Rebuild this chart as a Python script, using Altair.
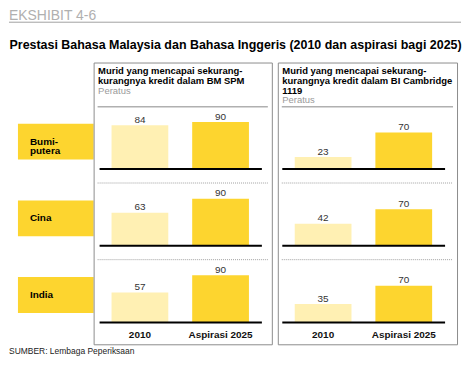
import altair as alt
import pandas as pd

# ---------------- data ----------------
GROUPS = ["Bumiputera", "Cina", "India"]
GROUP_LABELS = ["Bumi-\nputera", "Cina", "India"]
YEARS = ["2010", "Aspirasi 2025"]
BM_2010 = [84, 63, 57]
BM_2025 = [90, 90, 90]
BI_2010 = [23, 42, 35]
BI_2025 = [70, 70, 70]
BM_TITLE = ["Murid yang mencapai sekurang-", "kurangnya kredit dalam BM SPM"]
BI_TITLE = ["Murid yang mencapai sekurang-", "kurangnya kredit dalam BI Cambridge", "1119"]
UNIT = "Peratus"
EXHIBIT = "EKSHIBIT 4-6"
TITLE = "Prestasi Bahasa Malaysia dan Bahasa Inggeris (2010 dan aspirasi bagi 2025)"
SOURCE = "SUMBER: Lembaga Peperiksaan"

# ---------------- style / layout ----------------
FONT = "Liberation Sans"
DARK = "#FDD52F"
LIGHT = "#FFF0B3"
BORDER = "#8c8c8c"
PANEL_H = 283
K = 0.525                     # pixels per percentage point
DOM_TOP = PANEL_H / K
B0 = (PANEL_H - 107) / K      # baseline of first row (value units)
GAP = 77 / K                  # distance between rows (value units)
ys = alt.Scale(domain=[0, DOM_TOP], nice=False, zero=False)
one = pd.DataFrame({"k": [0]})


def with_base(chart):
    return chart.transform_calculate(base=f"{B0} - datum.row * {GAP}")


def panel(v2010, v2025, title_lines, width, band_left, rule_l, rule_r):
    df = pd.DataFrame({
        "row": [0, 1, 2] * 2,
        "group": GROUPS * 2,
        "year": [YEARS[0]] * 3 + [YEARS[1]] * 3,
        "value": v2010 + v2025,
    })
    step, bw = 81.0, 57.0
    pi = 1 - bw / step
    po = (width / step - (2 - pi)) / 2
    al = band_left / (width - step * (2 - pi))
    xs = alt.Scale(domain=YEARS, paddingInner=pi, paddingOuter=po, align=al)

    base = with_base(alt.Chart(df)).transform_calculate(top="datum.base + datum.value")
    bars = base.mark_bar().encode(
        x=alt.X("year:N", scale=xs, axis=None),
        y=alt.Y("top:Q", scale=ys, axis=None),
        y2="base:Q",
        color=alt.Color("year:N", scale=alt.Scale(domain=YEARS, range=[LIGHT, DARK]), legend=None),
    )
    vals = base.mark_text(dy=-2.5, baseline="alphabetic", fontSize=10, color="#333333", font=FONT).encode(
        x=alt.X("year:N", scale=xs, axis=None),
        y=alt.Y("top:Q", scale=ys, axis=None),
        text="value:Q",
    )
    rows = pd.DataFrame({"row": [0, 1, 2]})
    baselines = with_base(alt.Chart(rows)).mark_rule(color="black", strokeWidth=2).encode(
        y=alt.Y("base:Q", scale=ys, axis=None),
        x=alt.value(rule_l), x2=alt.value(rule_r),
    )
    dots = with_base(alt.Chart(pd.DataFrame({"row": [0, 1]}))).transform_calculate(
        d=f"datum.base - {14 / K}"
    ).mark_rule(color="#a0a0a0", strokeWidth=1, strokeDash=[1, 1]).encode(
        y=alt.Y("d:Q", scale=ys, axis=None),
        x=alt.value(4), x2=alt.value(width - 4),
    )
    head_line = alt.Chart(one).mark_rule(color="#888888", strokeWidth=1).encode(
        y=alt.value(44.5), x=alt.value(4), x2=alt.value(width - 4)
    )
    head = alt.Chart(one).mark_text(
        text=title_lines, align="left", baseline="alphabetic", fontSize=9.5,
        fontWeight="bold", lineHeight=9.7, font=FONT, color="#000000",
    ).encode(x=alt.value(4.5), y=alt.value(12))
    unit = alt.Chart(one).mark_text(
        text=UNIT, align="left", baseline="alphabetic", fontSize=9.5, font=FONT, color="#9a9a9a",
    ).encode(x=alt.value(4.5), y=alt.value(12 + 9.7 * len(title_lines)))
    xlab = alt.Chart(pd.DataFrame({"year": YEARS})).mark_text(
        fontWeight="bold", fontSize=10, font=FONT, color="#111111", baseline="alphabetic",
    ).encode(x=alt.X("year:N", scale=xs, axis=None), y=alt.value(277), text="year:N")

    return alt.layer(head_line, dots, bars, vals, baselines, head, unit, xlab).properties(
        width=width, height=PANEL_H, view=alt.ViewBackground(stroke=BORDER, strokeWidth=1)
    )


# ---------------- label column (with page titles) ----------------
lab_df = pd.DataFrame({"row": [0, 1, 2], "label": GROUP_LABELS})
lab_base = with_base(alt.Chart(lab_df)).transform_calculate(
    c=f"datum.base + {27.5 / K}"
).transform_calculate(
    y1=f"datum.c + {18 / K}", y0=f"datum.c - {18 / K}"
)
boxes = lab_base.mark_rect(color=DARK).encode(
    x=alt.value(9), x2=alt.value(85),
    y=alt.Y("y1:Q", scale=ys, axis=None), y2="y0:Q",
)
lab_txt = lab_base.mark_text(
    align="left", baseline="middle", lineBreak="\n", fontWeight="bold",
    fontSize=10, lineHeight=9.6, font=FONT, color="#000000",
).encode(x=alt.value(21), y=alt.Y("c:Q", scale=ys, axis=None), text="label:N")

# invisible frame that fixes the page extent (autosize pads to content bounds)
frame = alt.Chart(one).mark_rect(opacity=0).encode(
    x=alt.value(0), x2=alt.value(454), y=alt.value(-54), y2=alt.value(296)
)
exhibit = alt.Chart(one).mark_text(
    text=EXHIBIT, align="left", baseline="alphabetic", fontSize=14, font=FONT, color="#b0b0b0",
).encode(x=alt.value(0), y=alt.value(-42.5))
top_line = alt.Chart(one).mark_rule(color="#a0a0a0", strokeWidth=1).encode(
    y=alt.value(-40.5), x=alt.value(0), x2=alt.value(454)
)
title = alt.Chart(one).mark_text(
    text=TITLE, align="left", baseline="alphabetic", fontSize=12.5, fontWeight="bold",
    font=FONT, color="#000000",
).encode(x=alt.value(0.5), y=alt.value(-14))
source = alt.Chart(one).mark_text(
    text=SOURCE, align="left", baseline="alphabetic", fontSize=8.5, font=FONT, color="#222222",
).encode(x=alt.value(0), y=alt.value(293))

labels = alt.layer(frame, boxes, lab_txt, exhibit, top_line, title, source).properties(
    width=85, height=PANEL_H, view=alt.ViewBackground(strokeOpacity=0)
)

p1 = panel(BM_2010, BM_2025, BM_TITLE, 179, 18.0, 6, 169)
p2 = panel(BI_2010, BI_2025, BI_TITLE, 180, 17.0, 4.5, 168)

panels = alt.hconcat(p1, p2, spacing=6, bounds="flush").resolve_scale(
    x="independent", y="independent", color="independent"
)
chart = alt.hconcat(labels, panels, spacing=0).resolve_scale(
    x="independent", y="independent", color="independent"
).properties(
    padding={"left": 0, "top": 0, "right": 0, "bottom": 0},
    bounds="flush",
).configure(background="white")

chart.save("out.html", embed_options={"renderer": "svg", "actions": False})
